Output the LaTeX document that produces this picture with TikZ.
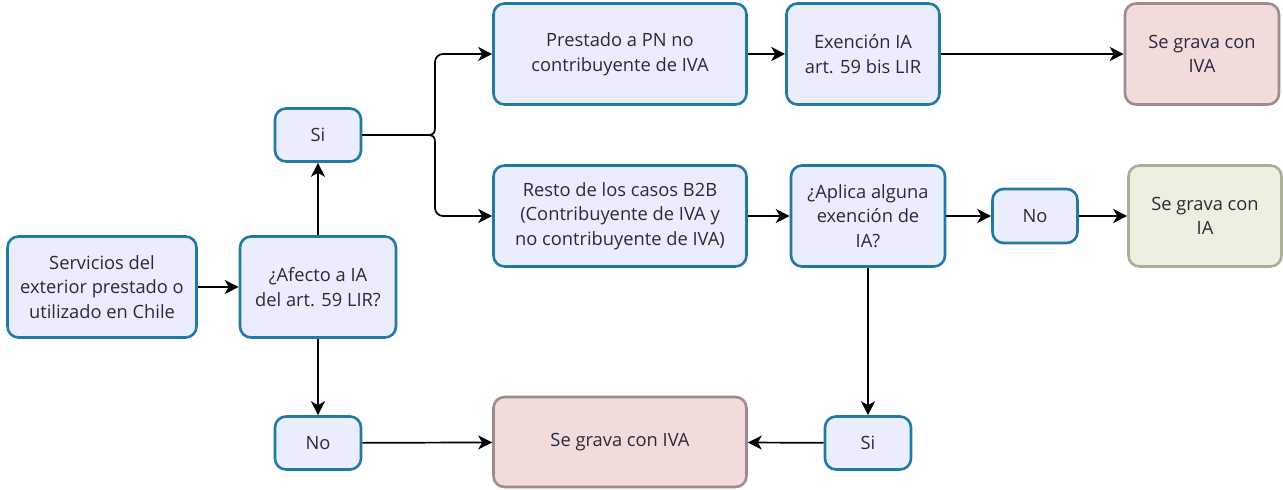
\documentclass[tikz,border=0pt]{standalone}
\usepackage{fontspec}
\setmainfont{Open Sans}
\usetikzlibrary{arrows.meta}
\definecolor{bfill}{HTML}{E9EDFC}
\definecolor{bline}{HTML}{2379A6}
\definecolor{pfill}{HTML}{F2DCDB}
\definecolor{pline}{HTML}{A08A8A}
\definecolor{gfill}{HTML}{EBF0DF}
\definecolor{gline}{HTML}{A9AE96}
\definecolor{txt}{HTML}{2A2A3A}
\tikzset{
  box/.style={draw=bline, fill=bfill, line width=2.6pt, rounded corners=11pt, align=center, inner sep=0pt, text=txt,
    font=\fontsize{18.3}{24.5}\selectfont},
  pbox/.style={box, draw=pline, fill=pfill},
  gbox/.style={box, draw=gline, fill=gfill},
  conn/.style={line width=1.7pt, -{Stealth[length=14pt,width=14pt,inset=4pt]}},
  plain/.style={line width=1.7pt},
}
\begin{document}
\begin{tikzpicture}[x=1pt,y=-1pt]
\useasboundingbox (0,0) rectangle (1283,490);
\node[box, minimum width=189pt, minimum height=101pt] (A) at (102,287) {Servicios del\\exterior prestado o\\utilizado en Chile};
\node[box, minimum width=156pt, minimum height=101pt] (B) at (318,287) {¿Afecto a IA\\del art. 59 LIR?};
\node[box, minimum width=86pt, minimum height=53pt] (si1) at (318,135) {Si};
\node[box, minimum width=86pt, minimum height=53pt] (no1) at (318,443) {No};
\node[box, minimum width=253pt, minimum height=101pt] (C) at (620,54) {Prestado a PN no\\contribuyente de IVA};
\node[box, minimum width=153pt, minimum height=101pt] (D) at (863,54) {Exención IA\\art. 59 bis LIR};
\node[pbox, minimum width=154pt, minimum height=101pt] (E) at (1202,54) {Se grava con\\IVA};
\node[box, minimum width=253pt, minimum height=101pt] (F) at (620,216) {Resto de los casos B2B\\(Contribuyente de IVA y\\no contribuyente de IVA)};
\node[box, minimum width=154pt, minimum height=101pt] (G) at (868,216) {¿Aplica alguna\\exención de\\IA?};
\node[box, minimum width=85pt, minimum height=54pt] (no2) at (1035,216) {No};
\node[gbox, minimum width=153pt, minimum height=101pt] (H) at (1205,216) {Se grava con\\IA};
\node[box, minimum width=86pt, minimum height=53pt] (si2) at (868,443) {Si};
\node[pbox, minimum width=253pt, minimum height=90pt] (I) at (620,442) {Se grava con IVA};
\coordinate (br) at (428,135);
\coordinate (bu) at (435,128);
\coordinate (bd) at (435,142);
\draw[conn] (A) -- (B);
\draw[conn] (B) -- (si1);
\draw[conn] (B) -- (no1);
\draw[plain] (si1.east) -- (br);
\draw[plain] (br) .. controls (433,135) and (435,133) .. (bu);
\draw[plain] (br) .. controls (433,135) and (435,137) .. (bd);
\draw[conn, rounded corners=8pt] (bu) |- (C.west);
\draw[conn, rounded corners=8pt] (bd) |- (F.west);
\draw[conn] (C) -- (D);
\draw[conn] (D) -- (E);
\draw[conn] (F) -- (G);
\draw[conn] (G) -- (no2);
\draw[conn] (no2) -- (H);
\draw[conn] (G) -- (si2);
\draw[conn] (si2) -- (I);
\draw[conn] (no1) -- (I);
\end{tikzpicture}
\end{document}
